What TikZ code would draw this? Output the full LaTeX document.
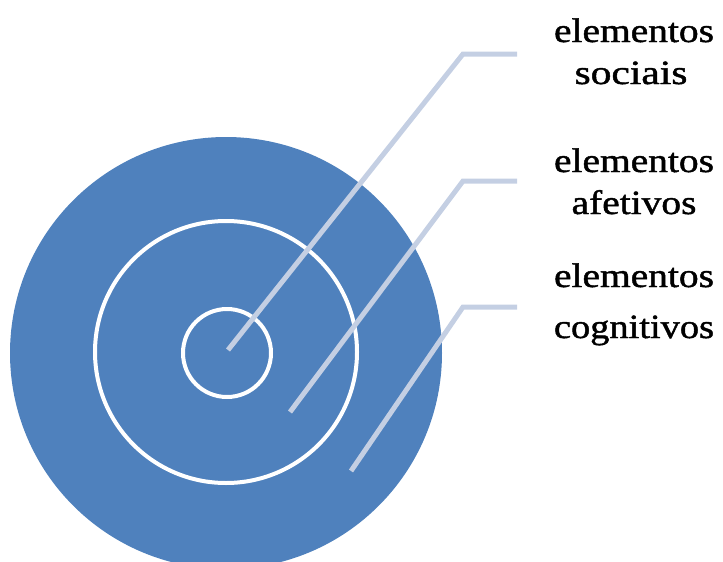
\documentclass[tikz,border=0pt]{standalone}
\usepackage{fontspec}
\setmainfont{Liberation Serif}
\newfontfamily\lblfont[FakeBold=1.2]{Liberation Serif}
\definecolor{disc}{HTML}{4F81BD}
\definecolor{leader}{HTML}{C4CFE3}
\begin{document}
\begin{tikzpicture}[x=1pt,y=-1pt,
  leaderline/.style={draw=leader,line width=5pt,line cap=butt,line join=miter},
  ring/.style={draw=white,line width=4pt},
  lbl/.style={anchor=base,inner sep=0pt,font=\lblfont\fontsize{34}{34}\selectfont}]
\useasboundingbox (0,0) rectangle (723,562);
\begin{scope}
\clip (0,0) rectangle (723,562);
\fill[disc] (226,353) circle[radius=216];
\end{scope}
\draw[ring] (226,352) circle[radius=131];
\draw[ring] (227,353) circle[radius=44];
% leader points
\coordinate (p1) at (228,350);
\coordinate (e1) at (463,54);
\coordinate (t1) at (517,54);
\coordinate (p2) at (290,412);
\coordinate (e2) at (463,181);
\coordinate (t2) at (517,181);
\coordinate (p3) at (351,471);
\coordinate (e3) at (463,307);
\coordinate (t3) at (517,307);
\draw[leaderline] (p1) -- (e1) -- (t1);
\draw[leaderline] (p2) -- (e2) -- (t2);
\draw[leaderline] (p3) -- (e3) -- (t3);
% labels
\node[lbl] (l1a) at (634,42) {\scalebox{1.16}[1]{elementos}};
\node[lbl] (l1b) at (631,84) {\scalebox{1.22}[1]{sociais}};
\node[lbl] (l2a) at (634,172) {\scalebox{1.16}[1]{elementos}};
\node[lbl] (l2b) at (634,214) {\scalebox{1.16}[1]{afetivos}};
\node[lbl] (l3a) at (634,287) {\scalebox{1.16}[1]{elementos}};
\node[lbl] (l3b) at (634,338) {\scalebox{1.13}[1]{cognitivos}};
\end{tikzpicture}
\end{document}
